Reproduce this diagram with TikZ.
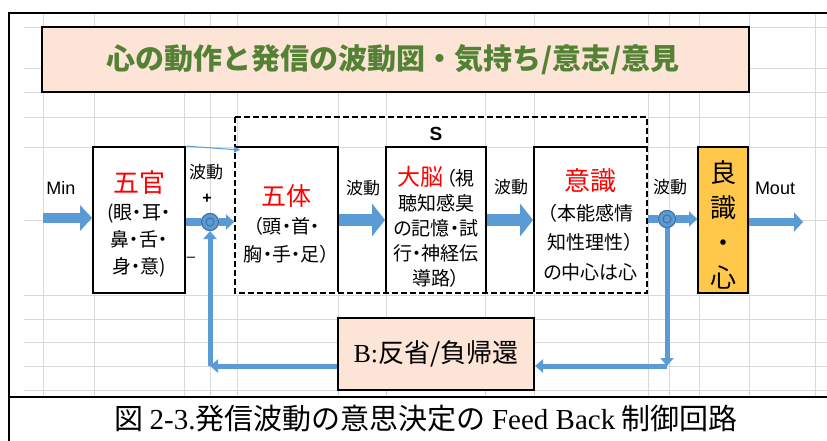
\documentclass[tikz,border=0pt]{standalone}
\usepackage{fontspec}
\usetikzlibrary{arrows.meta}
\setmainfont{Noto Sans CJK JP}
\newfontfamily\jp{Noto Sans CJK JP}[RawFeature=+palt]
\newfontfamily\lsans{Liberation Sans}
\newfontfamily\lserif{Liberation Serif}
\definecolor{abl}{HTML}{5B9BD5}
\definecolor{abd}{HTML}{41719C}
\definecolor{peach}{HTML}{FCE4D6}
\definecolor{goldbox}{HTML}{FFC84B}
\definecolor{tgreen}{HTML}{548235}
\definecolor{gridc}{HTML}{D9D9D9}
\begin{document}
\begin{tikzpicture}[x=1pt,y=-1pt,
  box/.style={draw, line width=1.8pt, fill=white, inner sep=0pt, minimum height=146pt},
  boxtext/.style={align=center, inner sep=0pt, font=\jp\fontsize{19}{27}\selectfont},
  lbl/.style={inner sep=0pt, font=\jp\fontsize{17}{20}\selectfont},
  bigarr/.style={abl, line width=10pt, -{Triangle[width=25pt,length=12pt]}},
  bigarrB/.style={abl, line width=12pt, -{Triangle[width=32pt,length=13pt]}},
  midline/.style={abl, line width=8pt},
  midtip/.style={abl, line width=8pt, -{Triangle[width=15pt,length=8pt]}},
  outarr/.style={abl, line width=8pt, -{Triangle[width=19pt,length=9pt]}},
  fbarr/.style={abl, line width=5pt, -{Triangle[width=13pt,length=8pt]}},
  sumnode/.style={circle, fill=abl, draw=abd, line width=1pt, minimum size=17pt, inner sep=0pt}
]
\useasboundingbox (0,0) rectangle (827,441);
\fill[white] (0,0) rectangle (827,441);
% spreadsheet grid
\foreach \y in {27,68,92,117,147,220,295,319,342,366,390}
  \draw[gridc, line width=0.8pt] (24,\y) -- (827,\y);
\foreach \x in {43,94,184,210,237,338,386,485,534,648,669,699,749,815}
  \draw[gridc, line width=0.8pt] (\x,13) -- (\x,397);
% frame
\draw[line width=2.5pt] (9,441) -- (9,13) -- (827,13);
\draw[line width=2pt] (9,397) -- (827,397);
% title
\node[draw, line width=2pt, fill=peach, minimum width=707pt, minimum height=65pt, inner sep=0pt] (title) at (395.5,59.5) {};
\node[inner sep=0pt, font=\fontsize{29}{32}\selectfont\bfseries, text=tgreen] (titletext) at (393,59.5)
  {心の動作と発信の波動図・気持ち/意志/意見};
% boxes
\node[box, minimum width=92pt] (gokan) at (139,220) {};
\node[box, minimum width=103pt] (gotai) at (286.5,220) {};
\node[box, minimum width=100pt] (daino) at (436,220) {};
\node[box, minimum width=113pt] (ishiki) at (590.5,220) {};
\node[box, minimum width=50pt, fill=goldbox] (ryo) at (723,220) {};
\node[boxtext] (gokanT) at (139,224)
  {{\fontsize{26}{30}\selectfont\textcolor{red}{五官}}\\(眼・耳・\\鼻・舌・\\身・意)};
\node[boxtext, font=\jp\fontsize{19}{28}\selectfont] (gotaiT) at (286.5,224)
  {{\fontsize{25}{30}\selectfont\textcolor{red}{五体}}\\（頭・首・\\胸・手・足）};
\node[boxtext, font=\jp\fontsize{19}{25}\selectfont] (dainoT) at (436,227)
  {{\fontsize{23}{25}\selectfont\textcolor{red}{大脳}}\kern3pt（視\\聴知感臭\\の記憶・試\\行・神経伝\\導路）};
\node[boxtext, font=\jp\fontsize{19}{29.5}\selectfont] (ishikiT) at (590.5,225)
  {{\fontsize{26}{29}\selectfont\textcolor{red}{意識}}\\（本能感情\\知性理性）\\の中心は心};
\node[boxtext, font=\jp\fontsize{26}{35}\selectfont] (ryoT) at (723,225)
  {良\\識\\・\\心};
% dashed system frame S
\draw[white, line width=2.6pt] (235,117) rectangle (647,293);
\draw[line width=1.8pt, dash pattern=on 6pt off 3pt] (235,117) rectangle (647,293);
\node[inner sep=0pt, font=\lsans\bfseries\fontsize{19}{22}\selectfont] (S) at (436,134) {S};
% feedback box
\node[draw, line width=2pt, fill=peach, minimum width=196pt, minimum height=72pt, inner sep=0pt,
  font=\fontsize{26}{30}\selectfont] (B) at (436,354) {{\lserif B:}反省/負帰還};
% forward arrows
\coordinate (min) at (43,218);
\coordinate (mout) at (803,222);
\coordinate (thintip) at (240,150);
\node[sumnode] (s1) at (210,222) {};
\node[sumnode] (s2) at (667,219) {};
\draw[bigarr] (min) -- (min -| gokan.west);
\draw[midline] (gokan.east |- s1) -- (s1.west);
\draw[midtip] (s1.east) -- (s1 -| gotai.west);
\draw[bigarrB] (gotai.east) -- (daino.west);
\draw[bigarrB] (daino.east) -- (ishiki.west);
\draw[midline] (ishiki.east |- s2) -- (s2.west);
\draw[midtip] (s2.east) -- (s2 -| ryo.west);
\draw[outarr] (ryo.east |- mout) -- (mout);
\draw[abl, line width=1pt, -{Triangle[width=6pt,length=6pt]}] (gokan.north east) -- (thintip);
% feedback path
\coordinate (fr) at (667,366);
\coordinate (fl) at (210,366);
\draw[fbarr] (s2.south) -- (fr);
\draw[fbarr] (fr) -- (B.east |- fr);
\draw[fbarr] (B.west |- fl) -- (fl);
\draw[fbarr] (fl) -- (s1.south);
% summing junctions on top
\node[sumnode] at (s1) {};
\node[sumnode] at (s2) {};
\draw[abd, line width=1pt] (s1) circle (4);
\draw[abd, line width=1pt] (s2) circle (4);
% labels
\node[inner sep=0pt, font=\lsans\fontsize{18}{20}\selectfont] (lmin) at (61,188) {Min};
\node[inner sep=0pt, font=\lsans\fontsize{18}{20}\selectfont] (lmout) at (775,188) {Mout};
\node[lbl] (w1) at (206,172) {波動};
\node[lbl, font=\lsans\bfseries\fontsize{16}{18}\selectfont] (plus) at (207,199) {+};
\node[lbl, font=\lsans\fontsize{15}{18}\selectfont] (minus) at (191,259) {–};
\node[lbl] (w2) at (363,188) {波動};
\node[lbl] (w3) at (511,187) {波動};
\node[lbl] (w4) at (670,187) {波動};
% caption
\node[inner sep=0pt, font=\fontsize{29}{32}\selectfont] (cap) at (426,419)
  {図 {\lserif 2-3.}発信波動の意思決定の {\lserif Feed Back} 制御回路};
\end{tikzpicture}
\end{document}
